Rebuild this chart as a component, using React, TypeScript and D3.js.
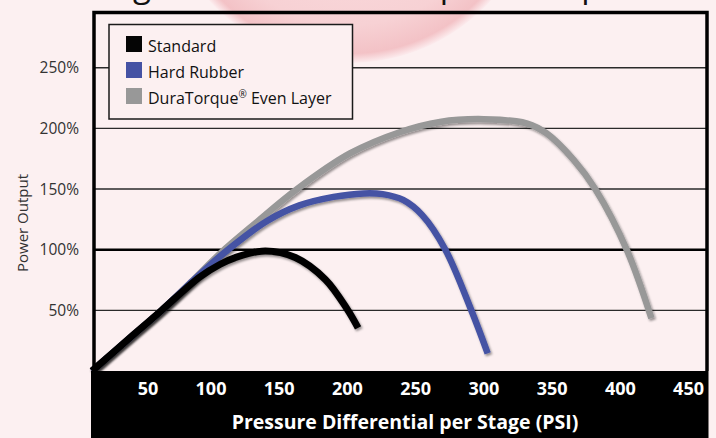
import * as d3 from "d3";
import React from "react";

const W = 716;
const H = 438;

const xTicks = [50, 100, 150, 200, 250, 300, 350, 400, 450];
const yTicks = [50, 100, 150, 200, 250];

const standardPsi = [0, 30, 51, 79, 94, 105, 127, 149, 171, 187, 195];
const standardPct = [0, 29.5, 50, 77.5, 88, 93.5, 99, 93.6, 75.5, 51, 35.5];

const rubberPsi = [0, 30, 51, 75, 97.5, 128, 152, 177, 199, 213, 228, 242, 259, 278, 290];
const rubberPct = [0, 29.5, 50, 75.5, 98, 123.5, 136.5, 143.5, 146.4, 145.8, 141, 128.5, 100, 50, 14.5];

const duraPsi = [0, 30, 51, 75, 94, 120, 150, 189, 226, 255, 287, 319, 333, 353, 369, 392, 410];
const duraPct = [0, 29.5, 50, 76, 97, 122, 149.7, 179.3, 197, 205.3, 207.6, 204, 196, 174, 149.7, 99.7, 43.4];

const seriesNames = ["Standard", "Hard Rubber", "DuraTorque"];
const seriesColors = ["#050505", "#4552a4", "#989898"];

const font = "'Open Sans', sans-serif";

export default function App() {
    const x = d3.scaleLinear().domain([0, 450]).range([92, 706]);
    const y = d3.scaleLinear().domain([0, 250]).range([371, 67.7]);

    const line = d3.line<[number, number]>()
        .x(d => x(d[0]))
        .y(d => y(d[1]))
        .curve(d3.curveCatmullRom.alpha(0.5));

    const series = [
        standardPsi.map((v, i) => [v, standardPct[i]] as [number, number]),
        rubberPsi.map((v, i) => [v, rubberPct[i]] as [number, number]),
        duraPsi.map((v, i) => [v, duraPct[i]] as [number, number]),
    ];
    const widths = [7, 6.5, 6.5];
    const drawOrder = [2, 1, 0];

    const left = x(0) + 2;
    const right = x(450) + 1;
    const top = y(295.5);
    const bottom = y(0);

    return (
        <div style={{ position: "absolute", left: 0, top: 0 }}>
            <svg width={W} height={H} viewBox={`0 0 ${W} ${H}`} style={{ display: "block" }}>
                <defs>
                    <radialGradient id="blob" cx="0.5" cy="0.5" r="0.5">
                        <stop offset="0%" stopColor="#fbe2e4" />
                        <stop offset="80%" stopColor="#f7d1d4" />
                        <stop offset="95%" stopColor="#f3c2c6" />
                        <stop offset="100%" stopColor="#fcecee" />
                    </radialGradient>
                    <filter id="shadow" x="-10%" y="-10%" width="120%" height="130%">
                        <feDropShadow dx="1.5" dy="2" stdDeviation="1.2" floodColor="#000" floodOpacity="0.4" />
                    </filter>
                </defs>
                <rect width={W} height={H} fill="#fcf0f1" />
                <circle cx={350} cy={-127} r={190} fill="url(#blob)" />

                {/* title, cut off at the top in the original */}
                <g fontFamily={font} fontSize={33} fill="#111">
                    <text x={151} y={-3} textAnchor="end">Power Rating</text>
                    <text x={382} y={-3}>Output</text>
                    <text x={510} y={-3}>Comparison</text>
                </g>

                {/* grid */}
                {yTicks.map(t => (
                    <line key={t} x1={left} x2={right} y1={y(t)} y2={y(t)}
                        stroke={t === 100 ? "#000" : "#2a2a2a"} strokeWidth={t === 100 ? 2.6 : 1.4} />
                ))}

                {/* legend */}
                <rect x={109} y={24.5} width={243.5} height={94.5} fill="#fcf0f1" stroke="#1a1a1a" strokeWidth={1.5} />
                {seriesNames.map((n, i) => (
                    <g key={n} transform={`translate(126, ${36 + i * 26})`}>
                        <rect width={16} height={16} fill={seriesColors[i]} />
                        <text x={22} y={15.5} fontFamily={font} fontSize={16} fill="#111">
                            {n}
                            {i === 2 && <><tspan fontSize={10} dy={-6}>®</tspan><tspan dy={6}> Even Layer</tspan></>}
                        </text>
                    </g>
                ))}

                {/* curves */}
                {drawOrder.map(i => (
                    <path key={i} d={line(series[i])!} fill="none" stroke={seriesColors[i]}
                        strokeWidth={widths[i]} strokeLinecap="butt" filter="url(#shadow)" />
                ))}

                {/* frame */}
                <path d={`M${left},${bottom} L${left},${top} L${right},${top} L${right},${bottom}`}
                    fill="none" stroke="#000" strokeWidth={3.5} />
                <rect x={left - 3} y={bottom} width={right - left + 4.5} height={H - bottom} fill="#000" />

                {/* x ticks */}
                {xTicks.map(t => (
                    <text key={t} x={x(t) - 2} y={395} textAnchor="end" fontFamily={font}
                        fontWeight={700} fontSize={18} fill="#fff">{t}</text>
                ))}
                <text x={405} y={429} textAnchor="middle" fontFamily={font} fontWeight={700}
                    fontSize={19.5} fill="#fff">Pressure Differential per Stage (PSI)</text>

                {/* y ticks */}
                {yTicks.map(t => (
                    <text key={t} x={79} y={y(t) + 5.5} textAnchor="end" fontFamily={font}
                        fontSize={15.5} fill="#333">{t}%</text>
                ))}
                <text transform="translate(28,223) rotate(-90)" textAnchor="middle" fontFamily={font}
                    fontSize={15} fill="#333">Power Output</text>
            </svg>
        </div>
    );
}
